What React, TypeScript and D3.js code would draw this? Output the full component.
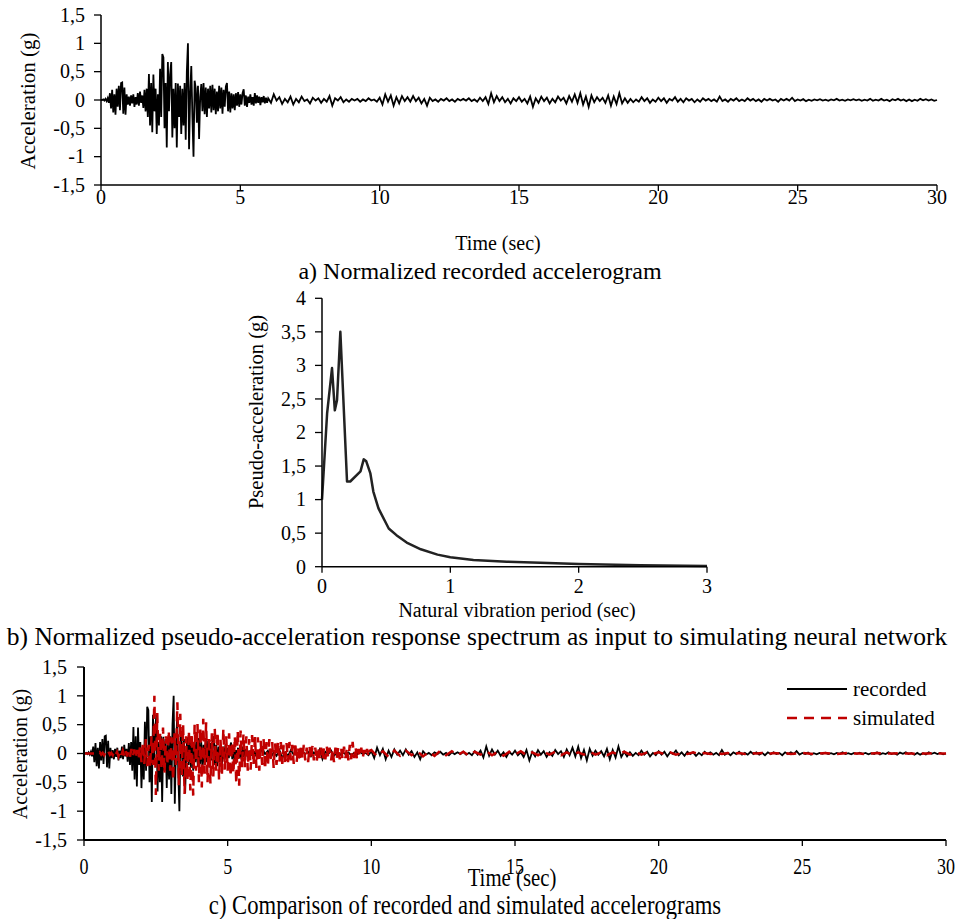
import React from 'react';
import * as d3 from 'd3';

const FONT = "'Liberation Serif', 'DejaVu Serif', serif";

// recorded accelerogram, 0 - 5.96 s, one value every 0.04 s
const recordedStrong = [
  0, 0, 0.01, -0.01, 0.02, -0.02, 0.03, -0.05, 0.12, -0.15, 0.18, -0.22, 0.1, -0.26, 0.2, -0.12, 0.25, -0.18, 0.3, 0.31, -0.24, 0.22, -0.26, 0.1, -0.08,
  0.06, -0.1, 0.08, -0.06, 0.1, -0.12, 0.05, -0.08, 0.12, -0.1, 0.15, -0.05, 0.08, -0.14, 0.18, -0.2, 0.2, -0.3, 0.46, -0.45, 0.3, -0.57, 0.45, -0.2, 0.2,
  -0.6, 0.1, -0.45, 0.55, -0.3, 0.81, 0.75, -0.5, 0.3, -0.84, 0.67, -0.2, 0.45, 0.67, -0.66, 0.2, -0.5, 0.3, -0.84, 0.29, -0.3, 0.25, -0.6, 0.2, -0.45,
  0.3, -0.7, 0.5, 1.0, -0.87, 0.1, 0.6, -0.3, -1.0, 0.34, 0.2, -0.4, 0.25, -0.69, 0.05, 0.28, -0.2, 0.3, -0.25, 0.22, -0.3, 0.2, -0.15, 0.25, -0.22,
  0.27, -0.18, 0.2, -0.25, 0.15, -0.2, 0.25, -0.15, 0.22, -0.24, 0.18, -0.12, 0.24, 0.3, -0.2, 0.15, -0.22, 0.12, -0.15, 0.1, -0.18, 0.12, -0.1, 0.14, -0.12,
  0.1, -0.08, 0.12, 0.19, -0.1, 0.08, -0.12, 0.06, -0.05, 0.1, -0.08, 0.05, -0.1, 0.12, -0.06, 0.08, -0.05, 0.06, -0.09, 0.05, -0.04, 0.07, -0.06, 0.04, -0.05,
];

// recorded accelerogram, 6 - 30 s, one value every 0.1 s
const recordedTail = [
  0.03, -0.05, 0.1, -0.01, 0.05, -0.07, 0.02, -0.04, 0.06, -0.08,
  0.02, -0.04, 0.06, -0.02, 0.01, -0.06, 0.04, -0.01, 0.03, -0.05,
  0.02, -0.03, 0.07, -0.1, 0.03, -0.01, 0.05, -0.04, 0.01, -0.03,
  0.02, -0.01, 0.02, -0.03, 0.01, -0.02, 0.03, -0.01, 0.01, -0.03,
  0.04, -0.08, 0.1, -0.03, 0.08, -0.1, 0.05, -0.06, 0.07, -0.02,
  0.05, -0.03, 0.07, -0.02, 0.04, -0.06, 0.02, -0.1, 0.04, -0.02,
  0.01, -0.03, 0.02, -0.01, 0.03, -0.02, 0.01, -0.03, 0.02, -0.01,
  0.02, -0.01, 0.03, -0.02, 0.01, -0.03, 0.04, -0.02, 0.05, -0.07,
  0.12, -0.04, 0.07, -0.02, 0.05, -0.04, 0.02, -0.06, 0.03, -0.02,
  0.05, -0.03, 0.02, -0.06, 0.06, -0.12, 0.03, -0.05, 0.06, -0.02,
  0.04, -0.06, 0.02, -0.04, 0.06, -0.01, 0.04, -0.06, 0.07, -0.03,
  0.1, -0.05, 0.12, -0.08, 0.06, -0.12, 0.08, -0.04, 0.05, -0.02,
  0.04, -0.05, 0.08, -0.1, 0.06, -0.07, 0.12, -0.06, 0.03, -0.05,
  0.02, -0.04, 0.01, -0.03, 0.05, -0.02, 0.03, -0.05, 0.01, -0.03,
  0.04, -0.02, 0.03, -0.05, 0.02, -0.01, 0.05, -0.03, 0.02, -0.04,
  0.03, -0.01, 0.02, -0.04, 0.01, -0.03, 0.03, -0.01, 0.02, -0.02,
  0.01, -0.03, 0.06, -0.02, 0.01, -0.03, 0.02, -0.01, 0.03, -0.02,
  0.01, -0.02, 0.03, -0.01, 0.02, -0.02, 0.01, -0.03, 0.02, -0.01,
  0.02, -0.01, 0.01, -0.03, 0.02, -0.01, 0.02, -0.01, 0.04, -0.02,
  0.01, -0.01, 0.015, -0.02, 0.005, -0.015, 0.01, -0.005, 0.015, -0.01,
  0.005, -0.015, 0.01, -0.005, 0.02, -0.01, 0.005, -0.015, 0.01, -0.005,
  0.015, -0.005, 0.01, -0.015, 0.005, -0.01, 0.02, -0.015, 0.005, -0.01,
  0.02, -0.01, 0.005, -0.02, 0.015, -0.005, 0.02, -0.01, 0.01, -0.02,
  0.01, -0.02, 0.005, -0.015, 0.02, -0.005, 0.015, -0.01, 0.01, -0.015,
  0,
];

// simulated accelerogram, 0 - 9.95 s, one value every 0.05 s
const simulatedStrong = [
  0, 0, 0, 0, 0, 0, 0, 0, 0, 0.01, -0.01, 0.02, -0.02, 0.01, -0.03, 0.02, -0.02, 0.03, -0.02, 0.01,
  -0.03, 0.04, -0.02, 0.03, -0.05, 0.04, -0.03, 0.05, -0.04, 0.06, -0.05, 0.04, -0.06, 0.08, -0.05, 0.07, -0.08, 0.06, -0.1, 0.12,
  -0.15, 0.2, -0.18, 0.25, -0.22, 0.15, -0.25, 0.3, -0.2, 1.0, -0.72, 0.7, -0.3, 0.35, -0.28, 0.45, -0.35, 0.3, -0.2, 0.4,
  -0.3, 0.28, -0.47, 0.35, -0.2, 0.89, -0.55, 0.69, -0.4, 0.5, -0.7, 0.3, -0.45, 0.4, -0.64, 0.35, -0.73, 0.5, -0.3, 0.51,
  -0.5, 0.45, -0.59, 0.6, -0.35, 0.54, -0.5, 0.3, -0.52, 0.35, -0.4, 0.45, -0.3, 0.38, -0.45, 0.25, -0.35, 0.43, -0.28, 0.3,
  -0.3, 0.35, -0.4, 0.2, -0.35, 0.3, -0.53, 0.4, -0.56, 0.4, -0.25, 0.34, -0.24, 0.3, -0.3, 0.25, -0.28, 0.32, -0.2, 0.3,
  -0.25, 0.28, -0.3, 0.22, -0.2, 0.25, -0.28, 0.2, -0.22, 0.25, -0.15, 0.2, -0.25, 0.18, -0.2, 0.22, -0.15, 0.2, -0.18, 0.15,
  -0.2, 0.18, -0.15, 0.2, -0.12, 0.15, -0.18, 0.2, -0.15, 0.12, -0.14, 0.16, -0.1, 0.15, -0.12, 0.1, -0.15, 0.12, -0.1, 0.13,
  -0.12, 0.1, -0.14, 0.12, -0.08, 0.1, -0.12, 0.09, -0.1, 0.12, -0.08, 0.1, -0.12, 0.08, -0.15, 0.1, -0.08, 0.12, -0.1, 0.08,
  -0.1, 0.12, -0.08, 0.1, -0.12, 0.15, -0.1, 0.2, -0.08, 0.12, -0.1, 0.08, -0.06, 0.1, -0.08, 0.06, -0.05, 0.08, -0.06, 0.05,
];

// simulated accelerogram, 10 - 30 s, one value every 0.2 s
const simulatedTail = [
  0.06, -0.05, 0.04, -0.06, 0.05, -0.04, 0.05, -0.03, 0.04, -0.05,
  0.03, -0.04, 0.05, -0.03, 0.04, -0.03, 0.03, -0.04, 0.03, -0.02,
  0.04, -0.03, 0.03, -0.04, 0.03, -0.02, 0.04, -0.03, 0.02, -0.03,
  0.03, -0.02, 0.03, -0.03, 0.02, -0.03, 0.02, -0.02, 0.03, -0.02,
  0.02, -0.03, 0.02, -0.02, 0.03, -0.02, 0.02, -0.02, 0.02, -0.01,
  0.02, -0.01, 0.02, -0.02, 0.01, -0.01, 0.02, -0.01, 0.01, -0.01,
  0.01, -0.01, 0.01, -0.01, 0.01, -0.01, 0.01, 0, 0.01, -0.01,
  0.01, 0, 0.01, -0.01, 0, 0.01, 0, -0.01, 0, 0.01,
  0, -0.01, 0, 0.01, 0, 0, -0.01, 0, 0.01, 0,
  0, 0, 0.01, 0, 0, -0.01, 0, 0, 0.01, 0,
  0,
];

// pseudo-acceleration response spectrum
const periods = [0, 0.04, 0.078, 0.1, 0.117, 0.143, 0.195, 0.22, 0.3, 0.325, 0.345, 0.377, 0.4, 0.44, 0.52, 0.58, 0.66, 0.77, 0.9, 1.0, 1.18, 1.44, 1.7, 2.0, 2.48, 3.0];
const psa = [1.0, 2.29, 2.96, 2.33, 2.48, 3.5, 1.27, 1.27, 1.42, 1.6, 1.57, 1.39, 1.12, 0.87, 0.57, 0.47, 0.36, 0.26, 0.18, 0.14, 0.1, 0.075, 0.06, 0.04, 0.02, 0.01];

const accTicks = [-1.5, -1, -0.5, 0, 0.5, 1, 1.5];
const timeTicks = [0, 5, 10, 15, 20, 25, 30];
const periodTicks = [0, 1, 2, 3];
const psaTicks = [0, 0.5, 1, 1.5, 2, 2.5, 3, 3.5, 4];

type Pt = { t: number; v: number };

const toPoints = (vals: number[], start: number, dt: number): Pt[] =>
  vals.map((v, i) => ({ t: +(start + i * dt).toFixed(3), v }));

const recorded = [...toPoints(recordedStrong, 0, 0.04), ...toPoints(recordedTail, 6, 0.1)];
const simulated = [...toPoints(simulatedStrong, 0, 0.05), ...toPoints(simulatedTail, 10, 0.2)];
const spectrum = periods.map((t, i) => ({ t, v: psa[i] }));

const fmt = (v: number) => String(v).replace('.', ',');

const txt = { fontFamily: FONT };

const Axes = ({ x, y, xTicks, yTicks, xLabelY, yLabelX, condensedX = false, axisW = 1.5 }: any) => {
  const [x0, x1] = x.range();
  const [yb, yt] = y.range();
  return (
    <g>
      <line x1={x0} x2={x0} y1={yb} y2={yt} stroke="#000" strokeWidth={axisW} />
      <line x1={x0} x2={x1} y1={yb} y2={yb} stroke="#000" strokeWidth={axisW} />
      {yTicks.map((d: number) => (
        <g key={'y' + d}>
          <line x1={x0 - 7} x2={x0} y1={y(d)} y2={y(d)} stroke="#000" strokeWidth={1.3} />
          <text x={yLabelX} y={y(d)} dy="0.34em" textAnchor="end" fontSize={20} style={txt}>{fmt(d)}</text>
        </g>
      ))}
      {xTicks.map((d: number) => (
        <g key={'x' + d}>
          <line x1={x(d)} x2={x(d)} y1={yb} y2={yb + 6} stroke="#000" strokeWidth={1.3} />
          <text transform={`translate(${x(d)},${xLabelY}) scale(${condensedX ? 0.75 : 1},1)`} textAnchor="middle"
            fontSize={condensedX ? 24 : 20} style={txt}>{fmt(d)}</text>
        </g>
      ))}
    </g>
  );
};

const App = () => {
  // panel a
  const xa = d3.scaleLinear().domain([0, 30]).range([101, 937]);
  const ya = d3.scaleLinear().domain([-1.5, 1.5]).range([185, 15]);
  // panel b
  const xb = d3.scaleLinear().domain([0, 3]).range([322, 707]);
  const yb = d3.scaleLinear().domain([0, 4]).range([566.7, 298.3]);
  // panel c
  const xc = d3.scaleLinear().domain([0, 30]).range([84, 946]);
  const yc = d3.scaleLinear().domain([-1.5, 1.5]).range([840, 667]);

  const lineA = d3.line<Pt>().x(d => xa(d.t)).y(d => ya(d.v));
  const lineB = d3.line<Pt>().x(d => xb(d.t)).y(d => yb(d.v));
  const lineC = d3.line<Pt>().x(d => xc(d.t)).y(d => yc(d.v));

  return (
    <svg width={960} height={919} style={{ position: 'absolute', left: 0, top: 0, background: '#fff' }}>
      <rect width={960} height={919} fill="#fff" />

      {/* a) recorded accelerogram */}
      <path d={lineA(recorded) || ''} fill="none" stroke="#000" strokeWidth={1.8} />
      <Axes x={xa} y={ya} xTicks={timeTicks} yTicks={accTicks} xLabelY={204} yLabelX={85} />
      <text transform="translate(35,101) rotate(-90)" textAnchor="middle" fontSize={21} style={txt}>Acceleration (g)</text>
      <text x={498} y={250} textAnchor="middle" fontSize={20} style={txt}>Time (sec)</text>
      <text x={480} y={279} textAnchor="middle" fontSize={24} style={txt}>a) Normalized recorded accelerogram</text>

      {/* b) response spectrum */}
      <path d={lineB(spectrum) || ''} fill="none" stroke="#222" strokeWidth={2.5} strokeLinejoin="round" />
      <Axes x={xb} y={yb} xTicks={periodTicks} yTicks={psaTicks} xLabelY={593} yLabelX={306} />
      <text transform="translate(263,412) rotate(-90)" textAnchor="middle" fontSize={20.5} style={txt}>Pseudo-acceleration (g)</text>
      <text x={517} y={617} textAnchor="middle" fontSize={20} style={txt}>Natural vibration period (sec)</text>
      <text x={477} y={645} textAnchor="middle" fontSize={25.5} style={txt}>b) Normalized pseudo-acceleration response spectrum as input to simulating neural network</text>

      {/* c) comparison */}
      <path d={lineC(recorded) || ''} fill="none" stroke="#000" strokeWidth={1.8} />
      <path d={lineC(simulated) || ''} fill="none" stroke="#c00000" strokeWidth={2.5} strokeDasharray="10,7" />
      <Axes x={xc} y={yc} xTicks={timeTicks} yTicks={accTicks} xLabelY={874} yLabelX={67} condensedX axisW={2} />
      <text transform="translate(27,754) rotate(-90)" textAnchor="middle" fontSize={20} style={txt}>Acceleration (g)</text>
      <text transform="translate(512,886) scale(0.8,1)" textAnchor="middle" fontSize={26} style={txt}>Time (sec)</text>
      <text transform="translate(465,914) scale(0.84,1)" textAnchor="middle" fontSize={27} style={txt}>c) Comparison of recorded and simulated accelerograms</text>

      {/* legend */}
      <line x1={787} x2={847} y1={689} y2={689} stroke="#000" strokeWidth={2} />
      <text x={853} y={696} fontSize={21} style={txt}>recorded</text>
      <line x1={787} x2={847} y1={718} y2={718} stroke="#c00000" strokeWidth={2.5} strokeDasharray="10,7" />
      <text x={853} y={725} fontSize={21} style={txt}>simulated</text>
    </svg>
  );
};

export default App;
